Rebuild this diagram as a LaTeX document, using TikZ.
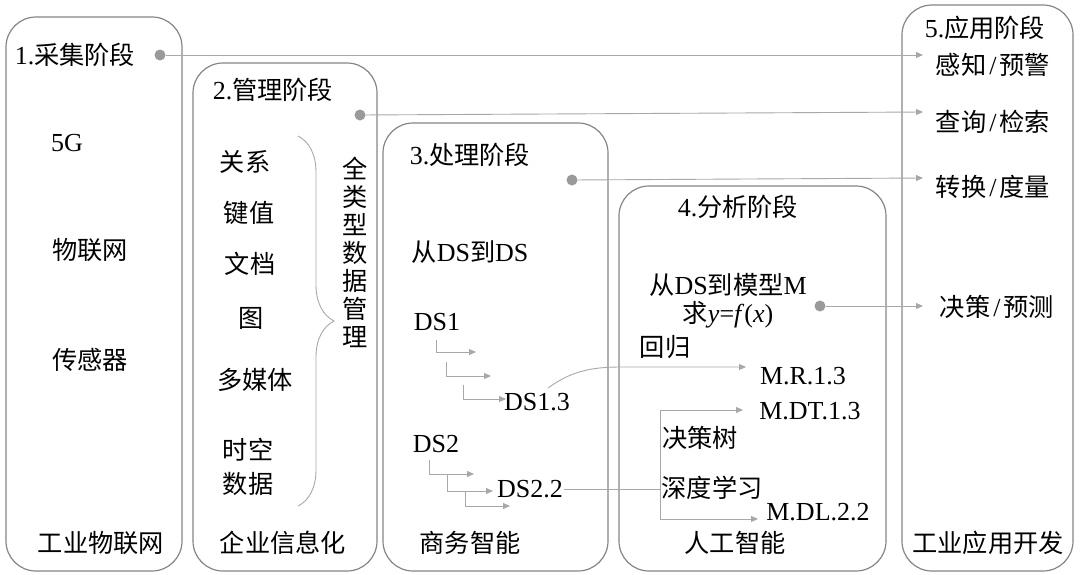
\documentclass[tikz,border=0pt]{standalone}
\usepackage{fontspec}
\setmainfont{Liberation Serif}
\newfontfamily\cjk{Noto Sans CJK SC}[Scale=0.97]
\usetikzlibrary{arrows.meta,decorations.pathreplacing}
\definecolor{boxc}{HTML}{858585}
\definecolor{linec}{HTML}{A8A8A8}
\definecolor{dotc}{HTML}{9A9A9A}
\newcommand{\sls}{\hspace{3pt}/\hspace{3pt}}
\tikzset{
  stagebox/.style={draw=boxc, line width=1.2pt, rounded corners=30pt},
  lbl/.style={inner sep=1pt, font=\fontsize{26}{30}\selectfont},
  dotn/.style={circle, fill=dotc, minimum size=11pt, inner sep=0pt},
  arr/.style={draw=linec, line width=0.9pt, -{Triangle[length=7pt,width=6pt]}},
  ln/.style={draw=linec, line width=0.9pt},
}
\begin{document}
\begin{tikzpicture}[x=1pt,y=-1pt]
\useasboundingbox (0,0) rectangle (1080,574);
% boxes
\draw[stagebox] (6,17) rectangle (182,571);
\draw[stagebox] (193,63) rectangle (377,571);
\draw[stagebox] (383,123) rectangle (608,571);
\draw[stagebox] (619,186) rectangle (886,571);
\draw[stagebox] (902,5) rectangle (1073,571);

% box 1
\node[lbl] (t1) at (75,55) {1.{\cjk 采集阶段}};
\node[lbl] (g5) at (67,143) {5G};
\node[lbl] (iot) at (90,250) {\cjk 物联网};
\node[lbl] (sens) at (90,360) {\cjk 传感器};
\node[lbl] (b1) at (101,543) {\cjk 工业物联网};
\node[dotn] (d1) at (160,55) {};

% box 2
\node[lbl] (t2) at (273,90) {2.{\cjk 管理阶段}};
\node[lbl] (rel) at (245,162) {\cjk 关系};
\node[lbl] (kv) at (249,213) {\cjk 键值};
\node[lbl] (doc) at (250,264) {\cjk 文档};
\node[lbl] (gr) at (251,318) {\cjk 图};
\node[lbl] (mm) at (255,380) {\cjk 多媒体};
\node[lbl, align=center, font=\fontsize{26}{34}\selectfont] (st) at (248,467) {\cjk 时空\\\cjk 数据};
\node[lbl] (b2) at (283,543) {\cjk 企业信息化};
\node[lbl, align=center, font=\fontsize{26}{28}\selectfont] (all) at (355,252) {\cjk 全\\\cjk 类\\\cjk 型\\\cjk 数\\\cjk 据\\\cjk 管\\\cjk 理};
\coordinate (brt) at (298,136);
\coordinate (brb) at (298,506);
\draw[draw=linec, line width=0.9pt, decorate, decoration={brace, amplitude=36pt}] (brt) -- (brb);
\node[dotn] (d2) at (360,115) {};

% box 3
\node[lbl] (t3) at (470,155) {3.{\cjk 处理阶段}};
\node[lbl] (ds2ds) at (470,252) {{\cjk 从}DS{\cjk 到}DS};
\node[lbl] (ds1) at (437,322) {DS1};
\node[lbl] (ds13) at (537,402) {DS1.3};
\node[lbl] (ds2) at (436,444) {DS2};
\node[lbl] (ds22) at (530,489) {DS2.2};
\node[lbl] (b3) at (470,543) {\cjk 商务智能};
\node[dotn] (d3) at (572,180) {};

% small step arrows
\coordinate (a1s) at (436,340); \coordinate (a1e) at (476,352);
\coordinate (a2s) at (446,362); \coordinate (a2e) at (491,376);
\coordinate (a3s) at (463,385); \coordinate (a3e) at (506,399);
\draw[arr] (a1s) |- (a1e);
\draw[arr] (a2s) |- (a2e);
\draw[arr] (a3s) |- (a3e);
\coordinate (b1s) at (429,460); \coordinate (b1e) at (474,474);
\coordinate (b2s) at (447,474); \coordinate (b2e) at (493,491);
\coordinate (b3s) at (465,491); \coordinate (b3e) at (510,506);
\draw[arr] (b1s) |- (b1e);
\draw[arr] (b2s) |- (b2e);
\draw[arr] (b3s) |- (b3e);

% box 4
\node[lbl] (t4) at (738,207) {4.{\cjk 分析阶段}};
\node[lbl] (dsm) at (728,285) {{\cjk 从}DS{\cjk 到模型}M};
\node[lbl] (yfx) at (728,315) {{\cjk 求}\textit{y}=\textit{f}(\textit{x})};
\node[lbl] (reg) at (665,347) {\cjk 回归};
\node[lbl] (mr) at (803,376) {M.R.1.3};
\node[lbl] (mdt) at (810,411) {M.DT.1.3};
\node[lbl] (dt) at (700,438) {\cjk 决策树};
\node[lbl] (dl) at (712,488) {\cjk 深度学习};
\node[lbl] (mdl) at (818,512) {M.DL.2.2};
\node[lbl] (b4) at (735,543) {\cjk 人工智能};
\node[dotn] (d4) at (820,306) {};

% box 5
\node[lbl] (t5) at (985,28) {5.{\cjk 应用阶段}};
\node[lbl] (p1) at (993,65) {{\cjk 感知}\sls{\cjk 预警}};
\node[lbl] (p2) at (993,122) {{\cjk 查询}\sls{\cjk 检索}};
\node[lbl] (p3) at (993,187) {{\cjk 转换}\sls{\cjk 度量}};
\node[lbl] (p4) at (997,307) {{\cjk 决策}\sls{\cjk 预测}};
\node[lbl] (b5) at (988,543) {\cjk 工业应用开发};

% long arrows
\coordinate (e1) at (923,55);
\coordinate (e2) at (923,112);
\coordinate (e3) at (923,178);
\coordinate (e4) at (923,306);
\draw[arr] (d1) -- (e1);
\draw[arr] (d2) -- (e2);
\draw[arr] (d3) -- (e3);
\draw[arr] (d4) -- (e4);

% DS1.3 -> M.R.1.3
\coordinate (c1) at (548,388);
\coordinate (c2) at (620,367);
\coordinate (mre) at (746,367);
\draw[arr] (c1) .. controls (570,372) and (590,367) .. (c2) -- (mre);

% DS2.2 branch
\coordinate (j) at (660,489);
\coordinate (jt) at (660,410);
\coordinate (jb) at (660,519);
\coordinate (mdte) at (743,410);
\coordinate (mdle) at (758,519);
\draw[ln] (ds22.east) -- (j);
\draw[ln] (jt) -- (jb);
\draw[arr] (jt) -- (mdte);
\draw[arr] (jb) -- (mdle);
\end{tikzpicture}
\end{document}
